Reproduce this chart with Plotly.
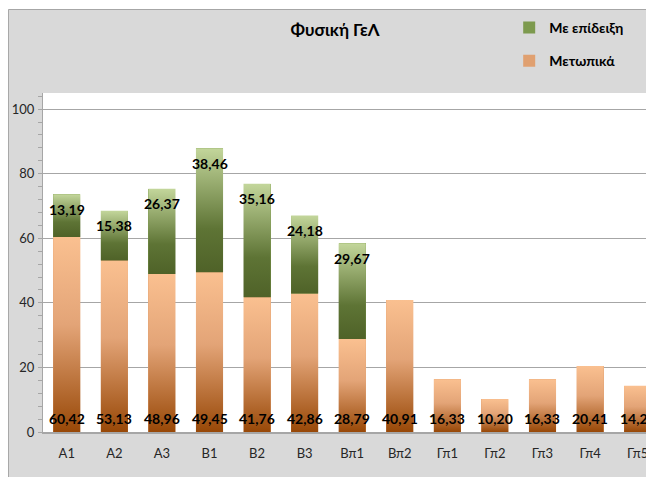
"""Φυσική ΓεΛ: stacked bars, Μετωπικά + Με επίδειξη, per class."""

import plotly.graph_objects as go

categories = ["Α1", "Α2", "Α3", "Β1", "Β2", "Β3", "Βπ1", "Βπ2",
              "Γπ1", "Γπ2", "Γπ3", "Γπ4", "Γπ5"]
metopika = [60.42, 53.13, 48.96, 49.45, 41.76, 42.86, 28.79, 40.91,
            16.33, 10.20, 16.33, 20.41, 14.29]
epideixi = [13.19, 15.38, 26.37, 38.46, 35.16, 24.18, 29.67, 0, 0, 0, 0, 0, 0]
y_ticks = [0, 20, 40, 60, 80, 100]

BAR_W = 0.57
FONT = "Lato"
ORANGE_SCALE = [[0, "#984807"], [0.55, "#e3a477"], [1, "#fac090"]]
GREEN_SCALE = [[0, "#4f6228"], [0.35, "#5e7435"], [1, "#c3d69b"]]

xs = list(range(len(categories)))
tops = [m + e for m, e in zip(metopika, epideixi)]


def fmt(v: float) -> str:
    return f"{v:.2f}".replace(".", ",")


fig = go.Figure()

# plain bars carry the legend, gradients are drawn on top of them
fig.add_trace(go.Bar(x=xs, y=metopika, width=BAR_W, name="Μετωπικά",
                     legendgroup="m", legendrank=2,
                     marker=dict(color="#e0a070", line_width=0), hoverinfo="skip"))
fig.add_trace(go.Bar(x=xs, y=epideixi, width=BAR_W, name="Με επίδειξη",
                     legendgroup="e", legendrank=1,
                     marker=dict(color="#7d9a4e", line_width=0), hoverinfo="skip"))

for i in xs:
    for base, val, scale in ((0, metopika[i], ORANGE_SCALE),
                             (metopika[i], epideixi[i], GREEN_SCALE)):
        if not val:
            continue
        x0, x1 = i - BAR_W / 2, i + BAR_W / 2
        fig.add_trace(go.Scatter(
            x=[x0, x1, x1, x0, x0], y=[base, base, base + val, base + val, base],
            mode="lines", fill="toself", line=dict(width=0, color="rgba(0,0,0,0)"),
            fillgradient=dict(type="vertical", colorscale=scale),
            showlegend=False, hoverinfo="skip"))

annotations = []
for i in xs:
    annotations.append(dict(x=i, y=0, yshift=14, text=f"<b>{fmt(metopika[i])}</b>",
                            showarrow=False, yanchor="middle"))
    if epideixi[i]:
        annotations.append(dict(x=i, y=tops[i], yshift=-15,
                                text=f"<b>{fmt(epideixi[i])}</b>",
                                showarrow=False, yanchor="middle"))

# the page puts the figure 8px in from the top-left corner, so the
# figure is 8px smaller and everything sits 8px up and left
fig.update_layout(
    width=646, height=469,
    margin=dict(l=35, r=0, t=85, b=45),
    barmode="stack",
    paper_bgcolor="white", plot_bgcolor="white",
    font=dict(family=FONT, size=14, color="#000000"),
    title=dict(text="<b>Φυσική ΓεΛ</b>", x=0.478, xref="paper", xanchor="center",
               y=0.953, yref="container", yanchor="middle",
               font=dict(family=FONT, size=17, color="#000000")),
    legend=dict(x=0.763, y=1.239, xanchor="left", yanchor="top",
                traceorder="grouped", tracegroupgap=12,
                bgcolor="rgba(0,0,0,0)",
                font=dict(size=14, color="#000000", weight="bold"),
                itemclick=False),
    annotations=annotations,
    shapes=[
        dict(type="rect", xref="paper", yref="paper", x0=-0.0565, x1=1.05,
             y0=-0.3, y1=1.2463, fillcolor="#d9d9d9",
             line=dict(color="#a6a6a6", width=1), layer="below"),
        dict(type="rect", xref="paper", yref="paper", x0=0, x1=1.05, y0=0, y1=1,
             fillcolor="white", line_width=0, layer="below"),
    ],
    xaxis=dict(range=[-0.5, 12.344], tickvals=xs, ticktext=categories,
               showgrid=False, showline=True, linecolor="#a6a6a6", linewidth=2,
               ticks="", zeroline=False, ticklabelstandoff=8, automargin=False,
               tickfont=dict(size=13, color="#262626")),
    yaxis=dict(range=[0, 105], tickvals=y_ticks, showgrid=True, gridcolor="#a6a6a6",
               gridwidth=1, showline=True, linecolor="#a6a6a6", linewidth=1,
               ticks="outside", ticklen=4, tickcolor="#a6a6a6", zeroline=False,
               ticklabelstandoff=1, automargin=False,
               tickfont=dict(size=13, color="#262626"),
               minor=dict(dtick=4, tick0=0, ticks="outside", ticklen=4,
                          tickcolor="#a6a6a6", showgrid=False)),
)

fig.write_html("out.html")
